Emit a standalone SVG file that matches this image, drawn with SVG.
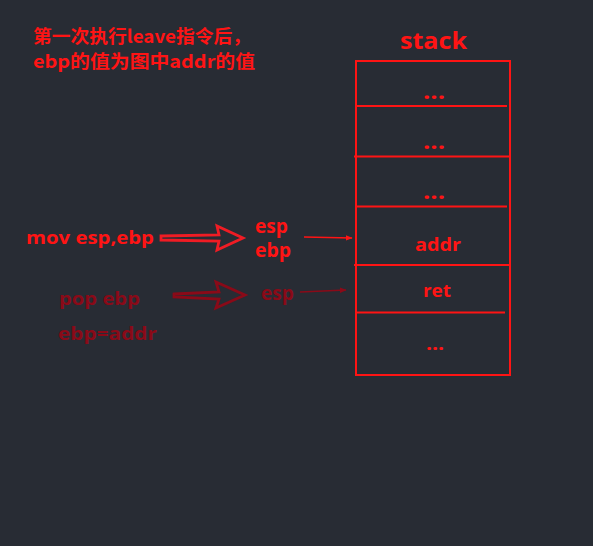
<svg xmlns="http://www.w3.org/2000/svg" width="593" height="546" viewBox="0 0 593 546">
<defs>
<style>
.t{font-family:"Open Sans","Noto Sans CJK SC",sans-serif;font-weight:bold}
.c{font-family:"Noto Sans CJK SC","Open Sans",sans-serif;font-weight:bold}
.r{fill:#ff1414}
.d{fill:#8a0a18}
.box{fill:none;stroke:#ff1414;stroke-width:2}
</style>
<marker id="ar" viewBox="0 0 10 10" refX="9" refY="5" markerWidth="7" markerHeight="7" orient="auto" markerUnits="userSpaceOnUse"><path d="M0,1 L10,5 L0,9 Z" fill="#ff1414"/></marker>
<marker id="ad" viewBox="0 0 10 10" refX="9" refY="5" markerWidth="7" markerHeight="7" orient="auto" markerUnits="userSpaceOnUse"><path d="M0,1 L10,5 L0,9 Z" fill="#8a0a18"/></marker>
</defs>
<rect width="593" height="546" fill="#282c34"/>
<g id="title">
<text class="c r" x="33" y="43" font-size="18" textLength="218" lengthAdjust="spacingAndGlyphs">第一次执行leave指令后，</text>
<text class="c r" x="33" y="68" font-size="18" textLength="222" lengthAdjust="spacingAndGlyphs">ebp的值为图中addr的值</text>
</g>
<g id="stack">
<text class="t r" x="400" y="49" font-size="24" textLength="67" lengthAdjust="spacingAndGlyphs">stack</text>
<rect class="box" x="356" y="61" width="154" height="314"/>
<line class="box" x1="356" y1="106" x2="507" y2="106"/>
<line class="box" x1="354" y1="156.5" x2="510" y2="156.5"/>
<line class="box" x1="356" y1="206.5" x2="507" y2="206.5"/>
<line class="box" x1="354" y1="265" x2="510" y2="265"/>
<line class="box" x1="356" y1="312.5" x2="505" y2="312.5"/>
<text class="t r" x="423" y="99" font-size="22" textLength="22" lengthAdjust="spacingAndGlyphs">...</text>
<text class="t r" x="423" y="149" font-size="22" textLength="22" lengthAdjust="spacingAndGlyphs">...</text>
<text class="t r" x="423" y="199" font-size="22" textLength="22" lengthAdjust="spacingAndGlyphs">...</text>
<text class="t r" x="415" y="251" font-size="18" textLength="46" lengthAdjust="spacingAndGlyphs">addr</text>
<text class="t r" x="423" y="297" font-size="18" textLength="28" lengthAdjust="spacingAndGlyphs">ret</text>
<text class="t r" x="426" y="350" font-size="18" textLength="18" lengthAdjust="spacingAndGlyphs">...</text>
</g>
<g id="mov">
<text class="t r" x="26" y="244" font-size="18" textLength="128" lengthAdjust="spacingAndGlyphs">mov esp,ebp</text>
<text class="t r" x="255" y="233" font-size="19" textLength="33" lengthAdjust="spacingAndGlyphs">esp</text>
<text class="t r" x="255" y="257" font-size="19" textLength="36" lengthAdjust="spacingAndGlyphs">ebp</text>
</g>
<g id="pop">
<text class="t d" x="59" y="305" font-size="18" textLength="81" lengthAdjust="spacingAndGlyphs">pop ebp</text>
<text class="t d" x="58" y="340" font-size="18" textLength="99" lengthAdjust="spacingAndGlyphs">ebp=addr</text>
<text class="t d" x="261" y="300" font-size="19" textLength="33" lengthAdjust="spacingAndGlyphs">esp</text>
</g>
<g id="connectors">
<path d="M161,236 L219,235 L217,226 L243,238 L217,250 L219,241 L161,240 Z" fill="none" stroke="#f01c24" stroke-width="2.8" stroke-linejoin="miter"/>
<path d="M174,294 L219,292 L216,282 L245,295 L216,308 L219,299 L174,297 Z" fill="none" stroke="#8a0a18" stroke-width="2.8"/>
<line x1="304" y1="237" x2="352" y2="238" stroke="#ff1414" stroke-width="1.5" marker-end="url(#ar)"/>
<line x1="300" y1="292" x2="346" y2="290" stroke="#8a0a18" stroke-width="1.5" marker-end="url(#ad)"/>
</g>
</svg>
